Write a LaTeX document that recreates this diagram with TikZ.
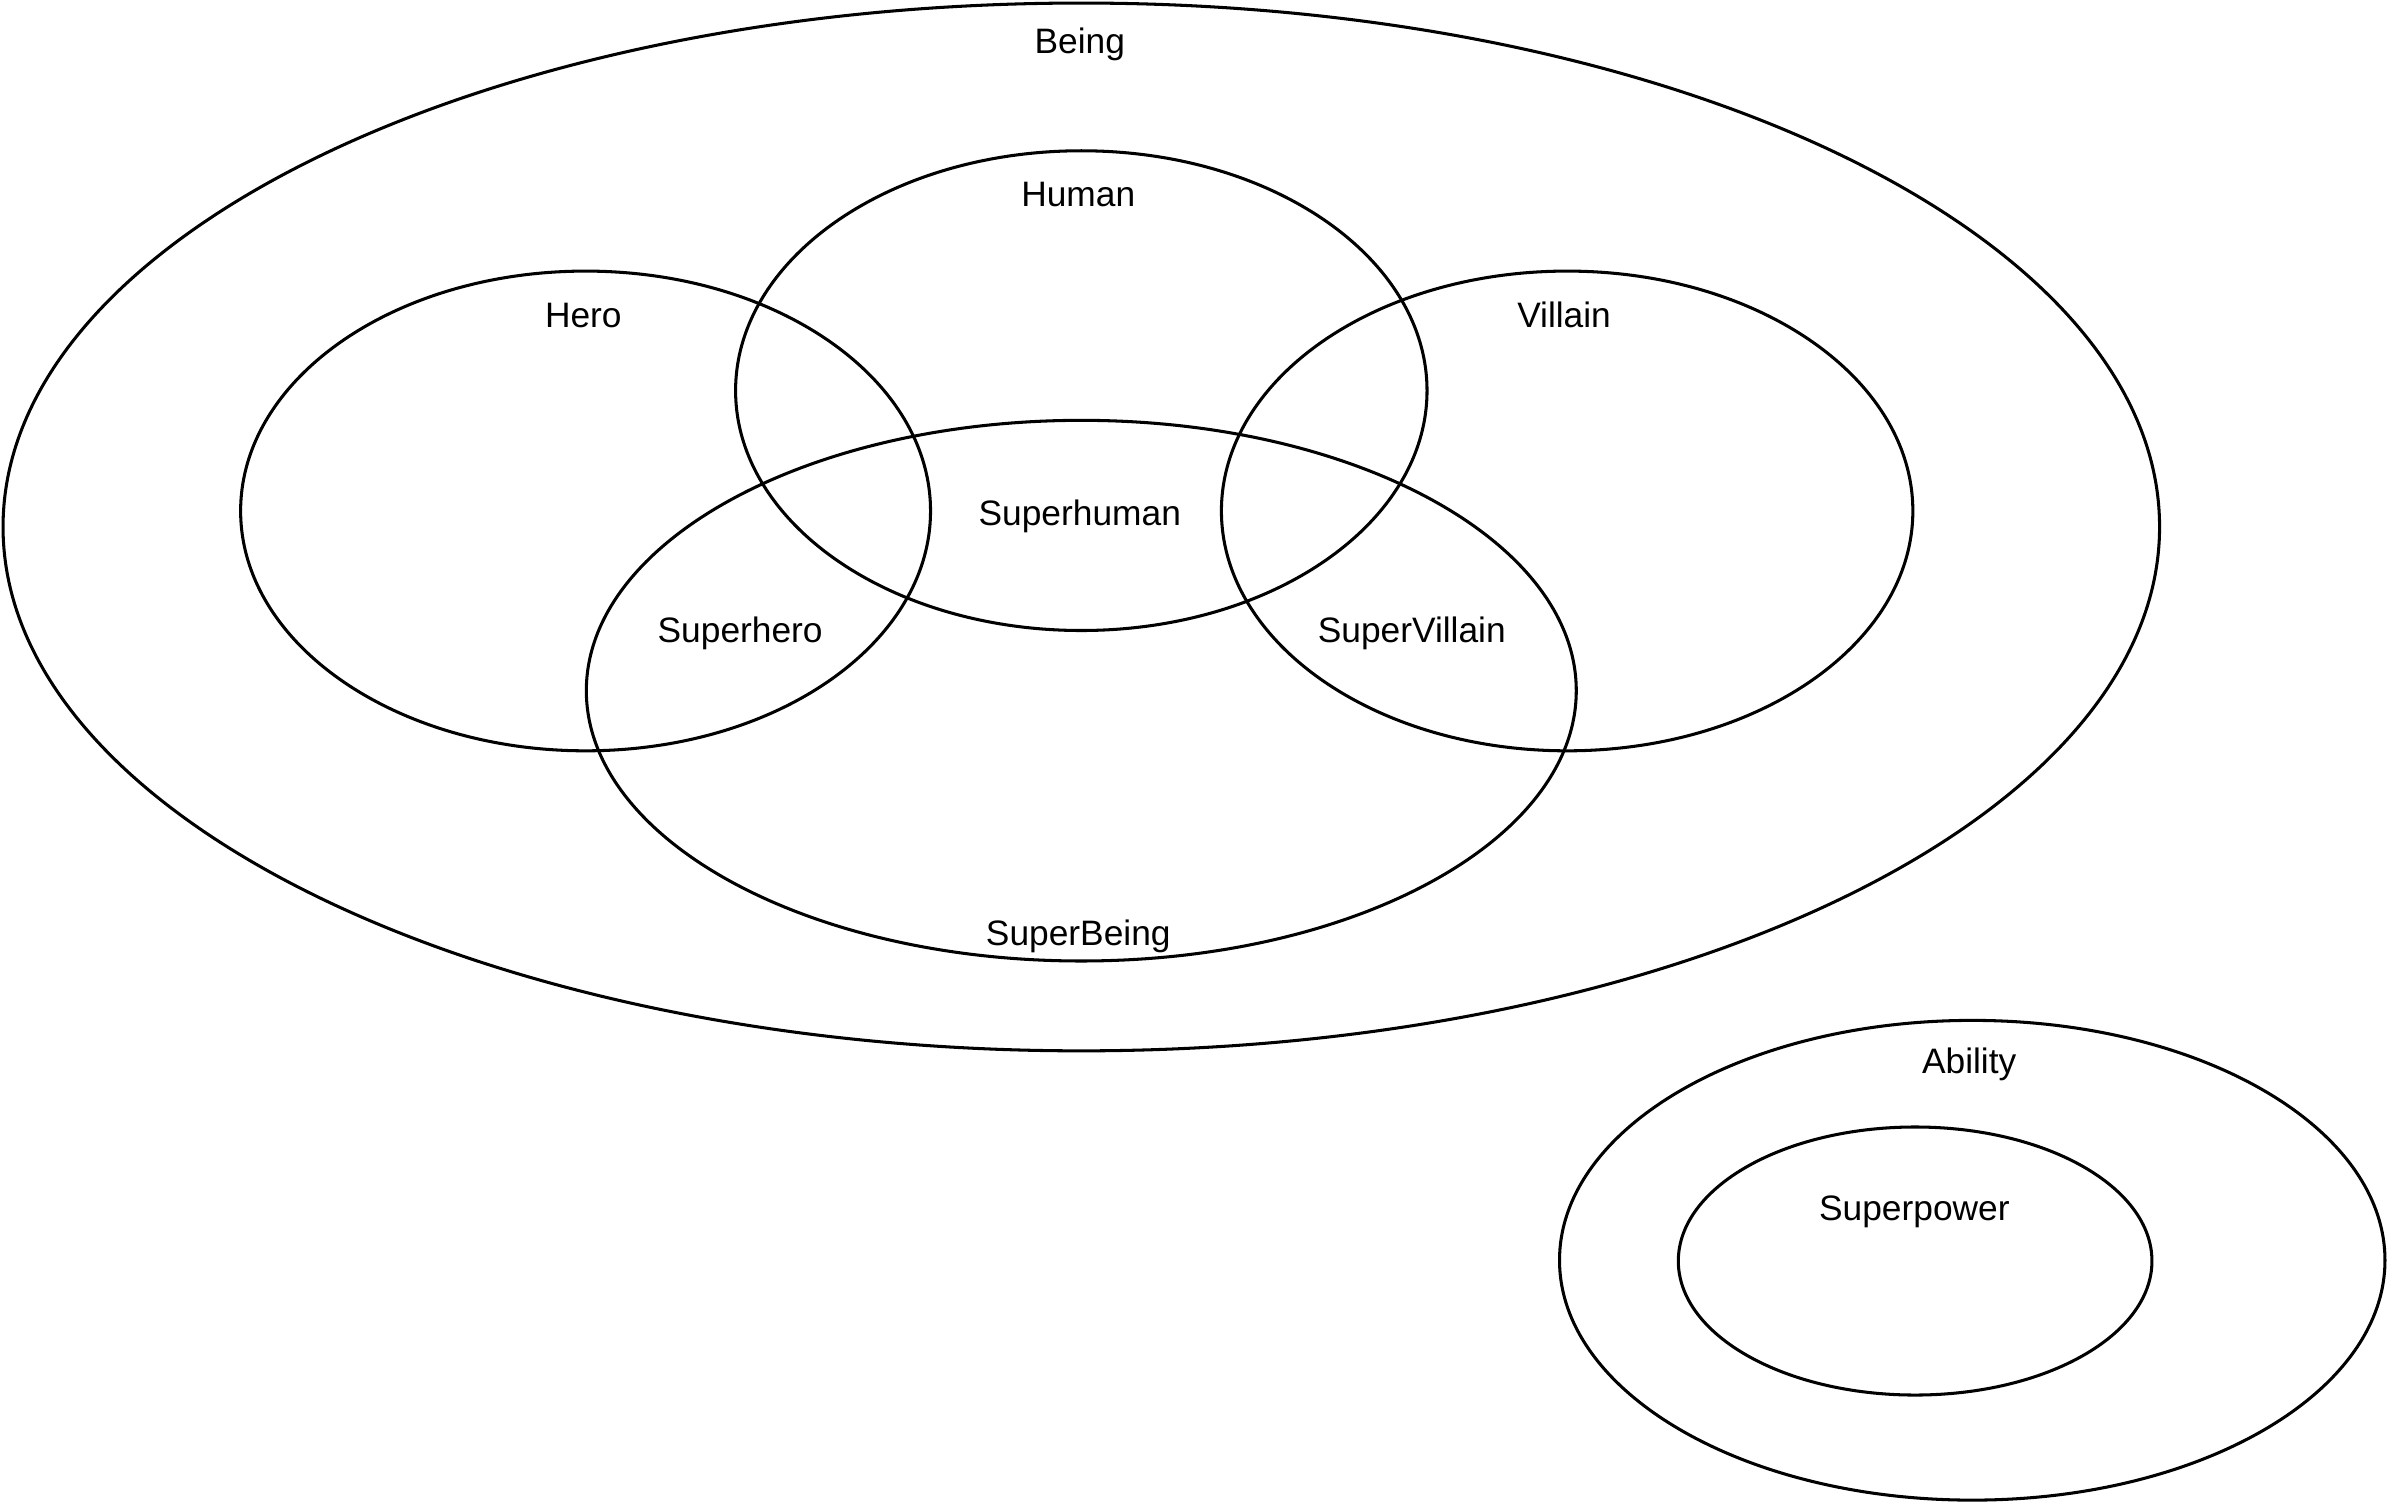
\documentclass[tikz,border=0pt]{standalone}
\usepackage{fontspec}
\setmainfont{Liberation Sans}
\begin{document}
\begin{tikzpicture}[x=1pt,y=-1pt,
  set/.style={draw=black,line width=2pt},
  lbl/.style={font=\fontsize{23.2}{27}\selectfont,inner sep=0pt,anchor=center,yshift=-2pt}]
\useasboundingbox (0,0) rectangle (1568,987);
% set outlines
\draw[set] (710,346) ellipse [x radius=708, y radius=344];
\draw[set] (710,256.5) ellipse [x radius=227, y radius=157.5];
\draw[set] (384.5,335.5) ellipse [x radius=226.5, y radius=157.5];
\draw[set] (1029,335.5) ellipse [x radius=227, y radius=157.5];
\draw[set] (710,453.5) ellipse [x radius=325, y radius=177.5];
\draw[set] (1295,827.5) ellipse [x radius=271, y radius=157.5];
\draw[set] (1257.5,828) ellipse [x radius=155.5, y radius=88];
% labels
\node[lbl] (being) at (709,27) {Being};
\node[lbl] (human) at (708,126) {Human};
\node[lbl] (hero) at (383,205) {Hero};
\node[lbl] (villain) at (1027,205) {Villain};
\node[lbl] (superhuman) at (709,337) {Superhuman};
\node[lbl] (superhero) at (486,414) {Superhero};
\node[lbl] (supervillain) at (927,414) {SuperVillain};
\node[lbl] (superbeing) at (708,613) {SuperBeing};
\node[lbl] (ability) at (1293,697) {Ability};
\node[lbl] (superpower) at (1257,794) {Superpower};
\end{tikzpicture}
\end{document}
